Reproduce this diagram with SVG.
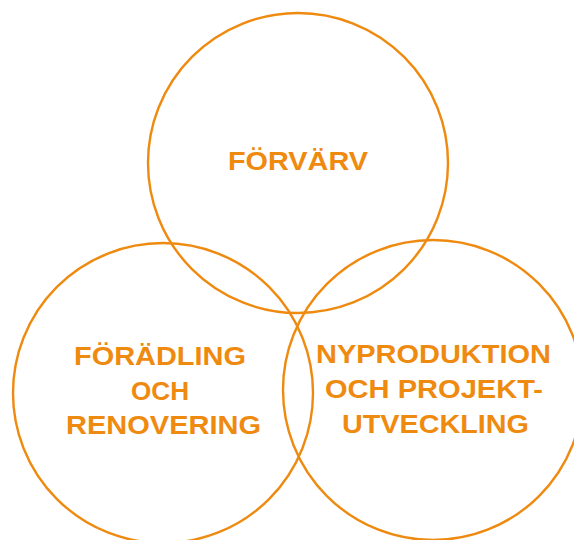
<svg xmlns="http://www.w3.org/2000/svg" width="574" height="540" viewBox="0 0 574 540">
  <style>
    .ring { fill: none; stroke: #EF8A10; stroke-width: 2.4; }
    .label { fill: #EF8A10; font-family: "Liberation Sans", Arial, sans-serif; font-weight: bold; font-size: 26px; text-anchor: middle; }
  </style>
  <rect width="574" height="540" fill="#ffffff"/>
  <g id="forvarv">
    <circle class="ring" cx="298" cy="163" r="150"/>
    <text class="label" x="298" y="170" textLength="140" lengthAdjust="spacingAndGlyphs">FÖRVÄRV</text>
  </g>
  <g id="foradling">
    <circle class="ring" cx="163" cy="393" r="150"/>
    <text class="label" x="160" y="365" textLength="172" lengthAdjust="spacingAndGlyphs">FÖRÄDLING</text>
    <text class="label" x="160" y="400" textLength="58" lengthAdjust="spacingAndGlyphs">OCH</text>
    <text class="label" x="163.5" y="434" textLength="195" lengthAdjust="spacingAndGlyphs">RENOVERING</text>
  </g>
  <g id="nyproduktion">
    <circle class="ring" cx="433" cy="390" r="150"/>
    <text class="label" x="433.5" y="363" textLength="235" lengthAdjust="spacingAndGlyphs">NYPRODUKTION</text>
    <text class="label" x="434" y="398" textLength="218" lengthAdjust="spacingAndGlyphs">OCH PROJEKT-</text>
    <text class="label" x="435.5" y="433" textLength="187" lengthAdjust="spacingAndGlyphs">UTVECKLING</text>
  </g>
  <g id="connectors"/>
</svg>
